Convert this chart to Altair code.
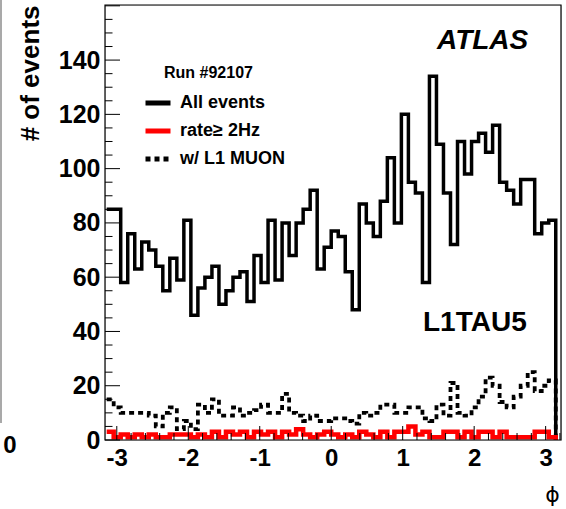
import altair as alt
import numpy as np
import pandas as pd

# ---- phi histograms of L1TAU5 trigger objects (64 bins over -pi..pi) ----
n_bins = 64
phi_lo, phi_hi = -np.pi, np.pi

all_events = [85, 85, 58, 76, 63, 73, 70, 64, 55, 67, 59, 81, 46, 56, 60, 64,
              50, 55, 60, 62, 51, 68, 58, 81, 59, 80, 68, 80, 85, 92, 63, 71,
              77, 75, 62, 48, 87, 80, 75, 88, 104, 80, 120, 95, 91, 58, 134, 109,
              91, 72, 110, 98, 110, 113, 106, 116, 95, 92, 87, 96, 96, 76, 80, 81]

rate_2hz = [3, 1, 2, 1, 2, 1, 2, 1, 1, 2, 2, 2, 1, 2, 1, 3,
            1, 3, 2, 3, 1, 3, 2, 3, 1, 3, 2, 4, 2, 1, 2, 3,
            2, 1, 2, 1, 3, 2, 1, 3, 1, 3, 3, 5, 2, 3, 1, 1,
            3, 3, 1, 3, 1, 3, 3, 1, 3, 1, 1, 1, 1, 3, 3, 1]

l1_muon = [15, 12, 10, 10, 10, 10, 9, 5, 10, 12, 4, 7, 4, 13, 10, 15,
           9, 9, 12, 9, 10, 11, 13, 10, 10, 17, 10, 9, 7, 9, 7, 7,
           8, 8, 7, 6, 10, 9, 10, 13, 13, 10, 10, 12, 12, 8, 7, 13,
           9, 21, 10, 9, 12, 16, 23, 20, 14, 12, 16, 20, 25, 18, 20, 22]

series_names = ["All events", "rate\u2265 2Hz", "w/ L1 MUON"]
series_colors = ["#000000", "#ff0000", "#000000"]
series_dashes = [[1, 0], [1, 0], [5, 4]]

y_tick_labels = [0, 20, 40, 60, 80, 100, 120, 140]
x_tick_labels = [-3, -2, -1, 0, 1, 2, 3]
y_minor_ticks = list(range(0, 161, 5))
x_minor_ticks = [round(v, 1) for v in np.arange(-3.0, 3.21, 0.2)]

FONT = "Liberation Sans"
W, H = 456, 435

edges = np.linspace(phi_lo, phi_hi, n_bins + 1)


def step_frame(counts, name):
    # left edge of every bin, then the closing drop to zero at the last edge
    phi = list(edges[:-1]) + [edges[-1]]
    n = list(counts) + [0]
    return pd.DataFrame({"phi": phi, "count": n, "series": name})


hist = pd.concat([
    step_frame(all_events, series_names[0]),
    step_frame(rate_2hz, series_names[1]),
    step_frame(l1_muon, series_names[2]),
], ignore_index=True)

x_scale = alt.Scale(domain=[-3.165, 3.215], nice=False, zero=False)
y_scale = alt.Scale(domain=[0, 160.3], nice=False)
color_scale = alt.Scale(domain=series_names, range=series_colors)
dash_scale = alt.Scale(domain=series_names, range=series_dashes)

legend = alt.Legend(
    title=None, orient="none", legendX=38, legendY=83, padding=0,
    symbolType="stroke", symbolSize=625, symbolStrokeWidth=4.8,
    labelFont=FONT, labelFontSize=18, labelFontWeight="bold",
    labelColor="black", labelOffset=7, rowPadding=3,
)

x_axis = alt.Axis(
    values=x_tick_labels, labelExpr="'' + datum.value",
    labelFont=FONT, labelFontSize=24, labelFontWeight="bold", labelColor="black",
    labelPadding=6, labelFlush=False, labelOverlap=False,
    ticks=False, tickSize=0, domain=False, grid=False,
    title="\u03d5", titleFont="DejaVu Sans", titleFontSize=22,
    titleFontWeight="normal", titleColor="black",
    titleX=447, titleY=54, titleAlign="center", titleBaseline="middle",
)
y_axis = alt.Axis(
    values=y_tick_labels, labelExpr="'' + datum.value",
    labelFont=FONT, labelFontSize=25, labelFontWeight="bold", labelColor="black",
    labelPadding=5, labelOverlap=False,
    ticks=False, tickSize=0, domain=False, grid=False,
    title="# of events", titleFont=FONT, titleFontSize=26,
    titleFontWeight="bold", titleColor="black",
    titleAngle=270, titleAlign="right", titleBaseline="middle",
    titleX=-75, titleY=0,
)


def X(field):
    return alt.X(field, scale=x_scale, axis=x_axis)


def Y(field):
    return alt.Y(field, scale=y_scale, axis=y_axis)


def hist_layer(name, width):
    return alt.Chart(hist).transform_filter(
        alt.datum.series == name
    ).mark_line(
        interpolate="step-after", strokeWidth=width, strokeJoin="miter"
    ).encode(
        x=X("phi:Q"),
        y=Y("count:Q"),
        color=alt.Color("series:N", scale=color_scale, legend=legend),
        strokeDash=alt.StrokeDash("series:N", scale=dash_scale, legend=legend),
    )


black = hist_layer(series_names[0], 3.5)
muon = hist_layer(series_names[2], 3.8)
red = hist_layer(series_names[1], 4.5)

# inward-pointing tick marks on the left and bottom frame edges
ymaj = pd.DataFrame({"v": [v for v in y_minor_ticks if v % 20 == 0]})
ymin = pd.DataFrame({"v": [v for v in y_minor_ticks if v % 20 != 0]})
xmaj = pd.DataFrame({"v": [v for v in x_minor_ticks if float(v).is_integer()]})
xmin = pd.DataFrame({"v": [v for v in x_minor_ticks if not float(v).is_integer()]})

y_major = alt.Chart(ymaj).mark_rule(color="black", strokeWidth=1).encode(
    y=Y("v:Q"), x=alt.value(0), x2=alt.value(15))
y_minor = alt.Chart(ymin).mark_rule(color="black", strokeWidth=1).encode(
    y=Y("v:Q"), x=alt.value(0), x2=alt.value(7.5))
x_major = alt.Chart(xmaj).mark_rule(color="black", strokeWidth=1).encode(
    x=X("v:Q"), y=alt.value(H), y2=alt.value(H - 14))
x_minor = alt.Chart(xmin).mark_rule(color="black", strokeWidth=1).encode(
    x=X("v:Q"), y=alt.value(H), y2=alt.value(H - 7))

# plot frame
frame = alt.Chart(pd.DataFrame({"t": [0]})).mark_rect(
    fill=None, stroke="black", strokeWidth=1.2
).encode(x=alt.value(0), x2=alt.value(W), y=alt.value(0), y2=alt.value(H))


def label(text, x, y, size, weight="bold", style="normal", align="left"):
    return alt.Chart(pd.DataFrame({"t": [text]})).mark_text(
        font=FONT, fontSize=size, fontWeight=weight, fontStyle=style,
        align=align, baseline="middle", color="black",
    ).encode(text="t:N", x=alt.value(x), y=alt.value(y))


atlas = label("ATLAS", 332, 36, 28, style="italic")
trigger = label("L1TAU5", 318, 318, 28)
run = label("Run #92107", 59, 68, 16)

# edge of the neighbouring panel on the left
side_zero = label("0", -95, 441, 24, align="center")
side_line = alt.Chart(pd.DataFrame({"t": [0]})).mark_rule(
    color="#8c8c8c", strokeWidth=1.5
).encode(x=alt.value(-104), y=alt.value(-5), y2=alt.value(418))

chart = alt.layer(
    black, muon, red, y_major, y_minor, x_major, x_minor, frame,
    atlas, trigger, run, side_zero, side_line,
).properties(
    width=W, height=H,
    autosize=alt.AutoSizeParams(type="none"),
    padding={"left": 105, "top": 5, "right": 5, "bottom": 69},
).configure_view(
    stroke=None
).configure(background="white")

chart.save("out.html", embed_options={"renderer": "svg", "actions": False})
